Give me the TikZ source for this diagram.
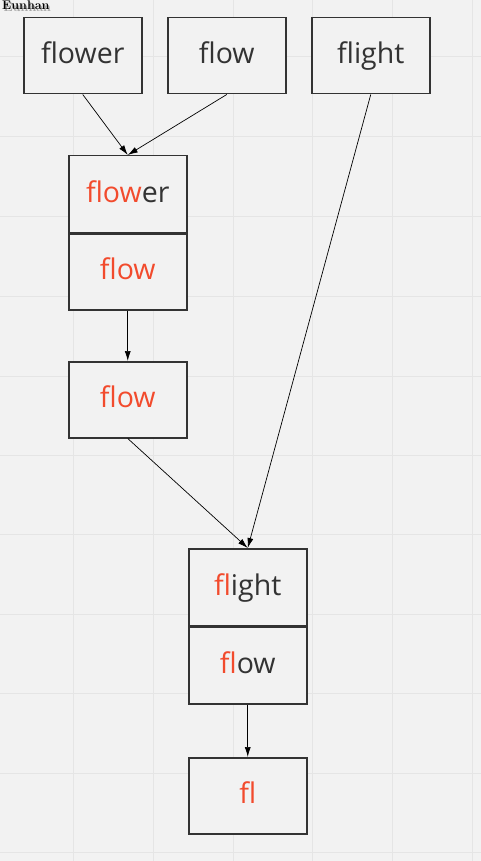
\documentclass[tikz,border=0pt]{standalone}
\usepackage{fontspec}
\setmainfont{Open Sans}
\usetikzlibrary{arrows.meta}
\definecolor{bg}{HTML}{F2F2F2}
\definecolor{gridc}{HTML}{E5E5E5}
\definecolor{hl}{HTML}{F24B2D}
\definecolor{ink}{HTML}{333333}
\newfontfamily\tagfont{Latin Modern Roman}
\begin{document}
\begin{tikzpicture}[x=1pt,y=-1pt,
  box/.style={draw=ink, line width=1.5pt, fill=bg, minimum width=118pt, minimum height=76pt,
    inner sep=0pt, text height=21pt, text depth=5pt,
    font=\fontsize{28.5}{32}\selectfont, text=ink, anchor=north west},
  half/.style={box, minimum height=77pt},
  divider/.style={draw=ink, line width=3pt},
  arr/.style={-{Latex[length=10pt,width=6pt]}, draw=black, line width=0.7pt},
  gridline/.style={draw=gridc, line width=1pt},
  tagstyle/.style={anchor=north west, inner sep=0pt, font=\tagfont\bfseries\fontsize{12.5}{13}\selectfont}]
\fill[bg] (0,0) rectangle (481,861);
\useasboundingbox (0,0) rectangle (481,861);
% grid
\foreach \gx in {73,153,233,312,392,472} \draw[gridline] (\gx,0) -- (\gx,861);
\foreach \gy in {57,137,216,296,376,455,534,614,693,773,852} \draw[gridline] (0,\gy) -- (481,\gy);
% tag
\node[tagstyle, text=gray!70] (tagshadow) at (3.5,2.5) {Eunhan};
\node[tagstyle, text=black] (tag) at (2,1) {Eunhan};
% top row
\node[box] (flower) at (23,17) {flower};
\node[box] (flow) at (167,17) {flow};
\node[box] (flight) at (311,17) {flight};
% first merged pair
\node[half] (p1a) at (68,155) {{\color{hl}flow}er};
\node[half] (p1b) at (68,232) {{\color{hl}flow}};
\draw[divider] (p1a.south west) -- (p1a.south east);
% result flow
\node[box] (r1) at (68,361) {{\color{hl}flow}};
% second merged pair
\node[half] (p2a) at (188,548) {{\color{hl}fl}ight};
\node[half] (p2b) at (188,626) {{\color{hl}fl}ow};
\draw[divider] (p2a.south west) -- (p2a.south east);
% result fl
\node[box] (r2) at (188,757) {{\color{hl}fl}};
% connectors
\draw[arr] (flower.south) -- (p1a.north);
\draw[arr] (flow.south) -- (p1a.north);
\draw[arr] (flight.south) -- (p2a.north);
\draw[arr] (p1b.south) -- (r1.north);
\draw[arr] (r1.south) -- (p2a.north);
\draw[arr] (p2b.south) -- (r2.north);
\end{tikzpicture}
\end{document}
